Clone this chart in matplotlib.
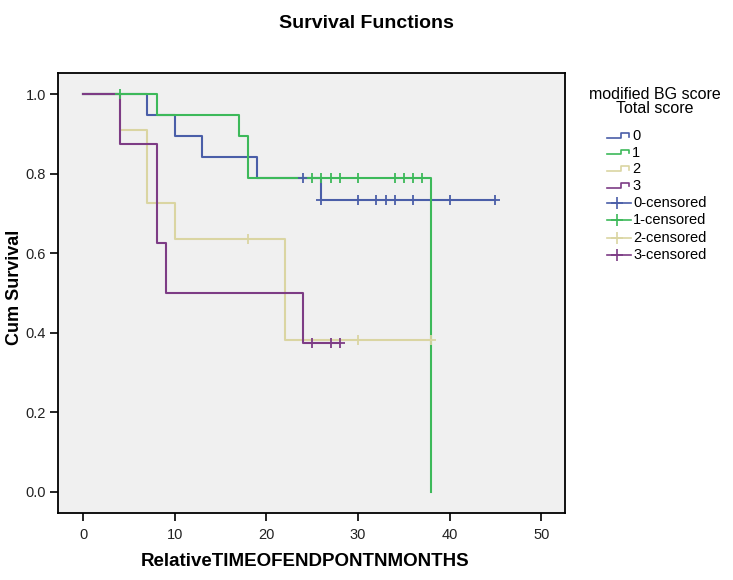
import numpy as np
import matplotlib
matplotlib.use("Agg")
import matplotlib.pyplot as plt
from matplotlib.lines import Line2D

plt.rcParams['font.family'] = ['Liberation Sans', 'DejaVu Sans']

# ---- data ----
groups = ["0", "1", "2", "3"]
colors = ["#4a5ea8", "#3db95a", "#dad5a2", "#7d3c85"]

g0_time = [0, 7, 10, 13, 19, 26, 45]
g0_surv = [1.0, 0.947, 0.895, 0.842, 0.789, 0.733, 0.733]
g0_cens = [24, 26, 30, 32, 33, 34, 36, 40, 45]

g1_time = [0, 8, 17, 18, 38]
g1_surv = [1.0, 0.947, 0.895, 0.789, 0.0]
g1_cens = [4, 25, 26, 27, 28, 30, 34, 35, 36, 37]

g2_time = [0, 4, 7, 10, 22, 38]
g2_surv = [1.0, 0.909, 0.727, 0.636, 0.382, 0.382]
g2_cens = [18, 30, 38]

g3_time = [0, 4, 8, 9, 24, 28]
g3_surv = [1.0, 0.875, 0.625, 0.5, 0.375, 0.375]
g3_cens = [25, 27, 28]

x_ticks = [0, 10, 20, 30, 40, 50]
y_ticks = [0.0, 0.2, 0.4, 0.6, 0.8, 1.0]

times = [g0_time, g1_time, g2_time, g3_time]
survs = [g0_surv, g1_surv, g2_surv, g3_surv]
cens = [g0_cens, g1_cens, g2_cens, g3_cens]

W, H = 733, 580


def surv_at(t_arr, s_arr, t):
    idx = np.searchsorted(np.asarray(t_arr), t, side='right') - 1
    return s_arr[idx]


def fx(px):
    return px / W


def fy(py):
    return 1 - py / H


fig = plt.figure(figsize=(7.33, 5.8), dpi=100)
ax = fig.add_axes([fx(58.3), fy(513), (565 - 58.3) / W, (513 - 72.7) / H])
ax.set_facecolor("#f0f0f0")

for t, s, c in zip(times, survs, colors):
    ax.step(t, s, where='post', color=c, lw=1.5, zorder=2)
for ct, t, s, c in zip(cens, times, survs, colors):
    cy = [surv_at(t, s, x) for x in ct]
    ax.plot(ct, cy, ls='none', marker='+', ms=6.5, mew=1.3, color=c, zorder=3)

ax.set_xlim(-2.73, 52.6)
ax.set_ylim(-0.054, 1.054)
ax.set_xticks(x_ticks)
ax.set_xticklabels([str(v) for v in x_ticks])
ax.set_yticks(y_ticks)
ax.set_yticklabels([f"{v:.1f}" for v in y_ticks])
ax.tick_params(direction='out', length=6, width=1.2, labelsize=10.5, color='black',
               labelcolor='#222222', pad=3)
ax.tick_params(axis='x', pad=5)
for sp in ax.spines.values():
    sp.set_linewidth(1.3)
    sp.set_color('black')

ax.set_xlabel("RelativeTIMEOFENDPONTNMONTHS", fontsize=13.5, fontweight='bold')
ax.xaxis.set_label_coords((305 - 58.3) / (565 - 58.3), (513 - 561) / (513 - 72.7))
ax.xaxis.label.set_va('center')
ax.set_ylabel("Cum Survival", fontsize=13, fontweight='bold')
ax.yaxis.set_label_coords((15 - 58.3) / (565 - 58.3), (513 - 287) / (513 - 72.7))
ax.yaxis.label.set_va('center')

fig.text(0.5, fy(24), "Survival Functions", ha='center', va='center',
         fontsize=14, fontweight='bold')

# ---- legend (drawn in figure pixels) ----
fig.text(fx(655), fy(95), "modified BG score", ha='center', va='center', fontsize=11.5)
fig.text(fx(655), fy(108.5), "Total score", ha='center', va='center', fontsize=11.5)

row_y = [136, 152.5, 169, 185.5, 203, 220, 237.5, 255]
for i, (g, c) in enumerate(zip(groups, colors)):
    y = row_y[i]
    xs = [607, 621, 621, 629, 629]
    ys = [y + 2, y + 2, y - 3, y - 3, y + 0.5]
    fig.add_artist(Line2D([fx(v) for v in xs], [fy(v) for v in ys], color=c, lw=1.2,
                          transform=fig.transFigure))
    fig.text(fx(632), fy(y), g, ha='left', va='center', fontsize=10.5)
for i, (g, c) in enumerate(zip(groups, colors)):
    y = row_y[4 + i]
    fig.add_artist(Line2D([fx(607), fx(631)], [fy(y), fy(y)], color=c, lw=1.2,
                          transform=fig.transFigure))
    fig.add_artist(Line2D([fx(617)], [fy(y)], color=c, ls='none', marker='+', ms=8, mew=1.2,
                          transform=fig.transFigure))
    fig.text(fx(633), fy(y), f"{g}-censored", ha='left', va='center', fontsize=10.5)

fig.savefig("out.png", dpi=100)
